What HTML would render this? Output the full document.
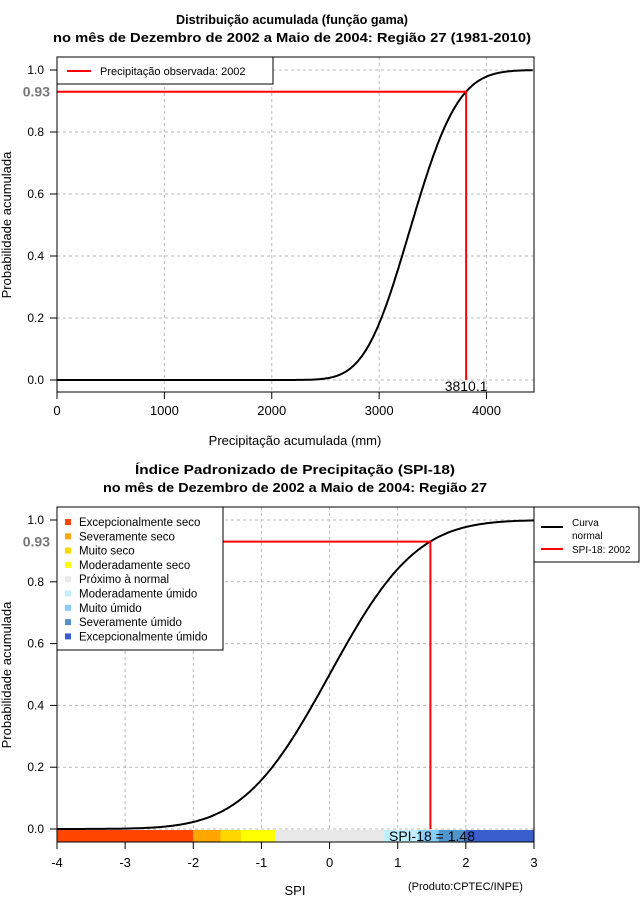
<!DOCTYPE html>
<html><head><meta charset="utf-8"><style>body{margin:0;background:#fff}svg{display:block}text{font-family:"Liberation Sans",sans-serif}</style></head>
<body>
<svg id="s" width="640" height="900" xmlns="http://www.w3.org/2000/svg">
<rect width="640" height="900" fill="#fff"/>
<g font-weight="bold" font-size="13" text-anchor="middle">
<text x="292" y="24" textLength="232" lengthAdjust="spacingAndGlyphs">Distribuição acumulada (função gama)</text>
<text x="292" y="42" textLength="478" lengthAdjust="spacingAndGlyphs">no mês de Dezembro de 2002 a Maio de 2004: Região 27 (1981-2010)</text>
<text x="295" y="474" textLength="320" lengthAdjust="spacingAndGlyphs">Índice Padronizado de Precipitação (SPI-18)</text>
<text x="295" y="492" textLength="384" lengthAdjust="spacingAndGlyphs">no mês de Dezembro de 2002 a Maio de 2004: Região 27</text>
</g>
<g id="g1"></g>
<g font-size="13" text-anchor="middle">
<text x="295" y="445">Precipitação acumulada (mm)</text>
<text x="295" y="895">SPI</text>
<text transform="translate(11,225) rotate(-90)">Probabilidade acumulada</text>
<text transform="translate(11,675) rotate(-90)">Probabilidade acumulada</text>
</g>
<text x="408" y="890" font-size="11">(Produto:CPTEC/INPE)</text>
</svg>
<script>
function erf(x){var s=x<0?-1:1;x=Math.abs(x);var t=1/(1+0.3275911*x);var y=1-(((((1.061405429*t-1.453152027)*t)+1.421413741)*t-0.284496736)*t+0.254829592)*t*Math.exp(-x*x);return s*y;}
function Phi(z){return 0.5*(1+erf(z/Math.SQRT2));}
var h='';
var X1=function(v){return 57+0.10738*v},Y1=function(p){return 380-310*p};
[0,1000,2000,3000,4000].forEach(function(v){var x=X1(v);h+='<line x1="'+x+'" y1="57" x2="'+x+'" y2="392" stroke="#bbb" stroke-dasharray="3,3"/>';h+='<line x1="'+x+'" y1="392" x2="'+x+'" y2="399" stroke="#000"/>';h+='<text x="'+x+'" y="415" font-size="13" text-anchor="middle">'+v+'</text>';});
[0,0.2,0.4,0.6,0.8,1].forEach(function(p){var y=Y1(p);h+='<line x1="57" y1="'+y+'" x2="534" y2="'+y+'" stroke="#bbb" stroke-dasharray="3,3"/>';h+='<line x1="50" y1="'+y+'" x2="57" y2="'+y+'" stroke="#000"/>';h+='<text x="44" y="'+(y+4)+'" font-size="12" text-anchor="end">'+p.toFixed(1)+'</text>';});
var d='';for(var v=0;v<=4430;v+=10){var z=(v-3300)/345;var p=Phi(z+0.05*z*z*(z<0?-1:0));d+=(v?'L':'M')+X1(v).toFixed(1)+','+Y1(p).toFixed(1);}
h+='<path d="'+d+'" fill="none" stroke="#000" stroke-width="2"/>';
var rx=X1(3810),ry=Y1(0.93);
h+='<polyline points="57,'+ry+' '+rx+','+ry+' '+rx+',380" fill="none" stroke="#f00" stroke-width="2"/>';
h+='<text x="'+rx+'" y="391" font-size="14" text-anchor="middle">3810.1</text>';
h+='<text x="50" y="'+(ry+5)+'" font-size="14" font-weight="bold" fill="#777" text-anchor="end">0.93</text>';
h+='<rect x="57" y="57" width="477" height="335" fill="none" stroke="#000"/>';
h+='<rect x="57" y="57" width="216" height="27" fill="#fff" stroke="#000"/><line x1="67" y1="71" x2="91" y2="71" stroke="#f00" stroke-width="2"/><text x="100" y="75" font-size="11">Precipitação observada: 2002</text>';
var X2=function(s){return 57+68.14*(s+4)},Y2=function(p){return 829-309*p};
[-4,-3,-2,-1,0,1,2,3].forEach(function(s){var x=X2(s);h+='<line x1="'+x+'" y1="507" x2="'+x+'" y2="842" stroke="#bbb" stroke-dasharray="3,3"/>';h+='<line x1="'+x+'" y1="842" x2="'+x+'" y2="849" stroke="#000"/>';h+='<text x="'+x+'" y="867" font-size="13" text-anchor="middle">'+s+'</text>';});
[0,0.2,0.4,0.6,0.8,1].forEach(function(p){var y=Y2(p);h+='<line x1="57" y1="'+y+'" x2="534" y2="'+y+'" stroke="#bbb" stroke-dasharray="3,3"/>';h+='<line x1="50" y1="'+y+'" x2="57" y2="'+y+'" stroke="#000"/>';h+='<text x="44" y="'+(y+4)+'" font-size="12" text-anchor="end">'+p.toFixed(1)+'</text>';});
d='';for(var s=-4;s<=3.001;s+=0.02){d+=(s>-4?'L':'M')+X2(s).toFixed(1)+','+Y2(Phi(s)).toFixed(1);}
h+='<path d="'+d+'" fill="none" stroke="#000" stroke-width="2"/>';
var segs=[[-4,-2,'#FF4500'],[-2,-1.6,'#FFA500'],[-1.6,-1.3,'#FFD700'],[-1.3,-0.8,'#FFFF00'],[-0.8,0.8,'#E8E8E8'],[0.8,1.3,'#BFEFFF'],[1.3,1.6,'#87CEFA'],[1.6,2,'#4F94CD'],[2,3,'#3A5FCD']];
segs.forEach(function(g){h+='<rect x="'+X2(g[0])+'" y="830" width="'+(X2(g[1])-X2(g[0]))+'" height="12" fill="'+g[2]+'"/>';});
rx=X2(1.48);ry=Y2(0.93);
h+='<polyline points="57,'+ry+' '+rx+','+ry+' '+rx+',829" fill="none" stroke="#f00" stroke-width="2"/>';
h+='<text x="432" y="841" font-size="14" text-anchor="middle">SPI-18 = 1.48</text>';
h+='<text x="50" y="'+(ry+5)+'" font-size="14" font-weight="bold" fill="#777" text-anchor="end">0.93</text>';
h+='<rect x="57" y="507" width="477" height="335" fill="none" stroke="#000"/>';
h+='<rect x="57" y="507" width="166" height="143" fill="#fff" stroke="#000"/>';
var labs=['Excepcionalmente seco','Severamente seco','Muito seco','Moderadamente seco','Próximo à normal','Moderadamente úmido','Muito úmido','Severamente úmido','Excepcionalmente úmido'];
labs.forEach(function(l,i){var y=522+i*14.3;h+='<rect x="65" y="'+(y-3)+'" width="6" height="6" fill="'+segs[i][2]+'"/><text x="79" y="'+(y+4)+'" font-size="11.5">'+l+'</text>';});
h+='<rect x="534" y="507" width="105" height="55" fill="#fff" stroke="#000"/><line x1="541" y1="527" x2="563" y2="527" stroke="#000" stroke-width="2"/><line x1="541" y1="549" x2="563" y2="549" stroke="#f00" stroke-width="2"/><text x="572" y="526" font-size="10">Curva</text><text x="572" y="539" font-size="10">normal</text><text x="572" y="553" font-size="10">SPI-18: 2002</text>';
document.getElementById('g1').innerHTML=h;
</script>
</body></html>
